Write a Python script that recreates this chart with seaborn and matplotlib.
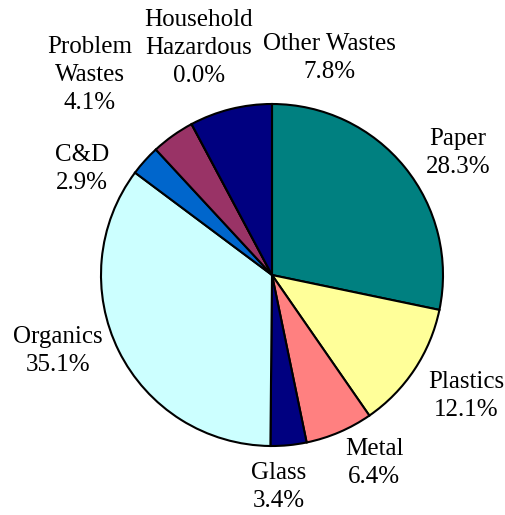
import matplotlib
matplotlib.use("Agg")
import matplotlib.pyplot as plt
import seaborn as sns

# Waste composition by material (percent of total)
categories = ["Paper", "Plastics", "Metal", "Glass", "Organics", "C&D",
              "Problem\nWastes", "Household\nHazardous", "Other Wastes"]
shares = [28.3, 12.1, 6.4, 3.4, 35.1, 2.9, 4.1, 0.0, 7.8]
colors = ["#008080", "#FFFF99", "#FF8080", "#000080", "#CCFFFF",
          "#0066CC", "#993366", "#FFFFCC", "#000080"]

sns.set_theme(style="white")
plt.rcParams["font.family"] = ["Liberation Serif", "DejaVu Serif"]

W, H = 506, 515
fig = plt.figure(figsize=(W / 100, H / 100), dpi=100)
ax = fig.add_axes([0, 0, 1, 1])

palette = sns.color_palette(colors)
wedges, _ = ax.pie(shares, colors=palette, startangle=90, counterclock=False,
                   center=(272, H - 275), radius=171,
                   wedgeprops=dict(edgecolor="black", linewidth=1.5))

# pie() resets the limits, so fix the pixel-sized canvas afterwards
ax.set_xlim(0, W)
ax.set_ylim(0, H)
ax.set_aspect("equal")
ax.axis("off")

# Label anchor points (pixel layout, y measured from top)
label_xy = [(458, 153), (466, 396), (374, 463), (279, 487), (58, 351),
            (82, 169), (90, 75), (199, 48), (329, 58)]
for name, val, (lx, ly) in zip(categories, shares, label_xy):
    ax.text(lx, H - ly, f"{name}\n{val:.1f}%", ha="center", va="center",
            fontsize=18, linespacing=1.38, color="black")

fig.savefig("out.png", dpi=100)
